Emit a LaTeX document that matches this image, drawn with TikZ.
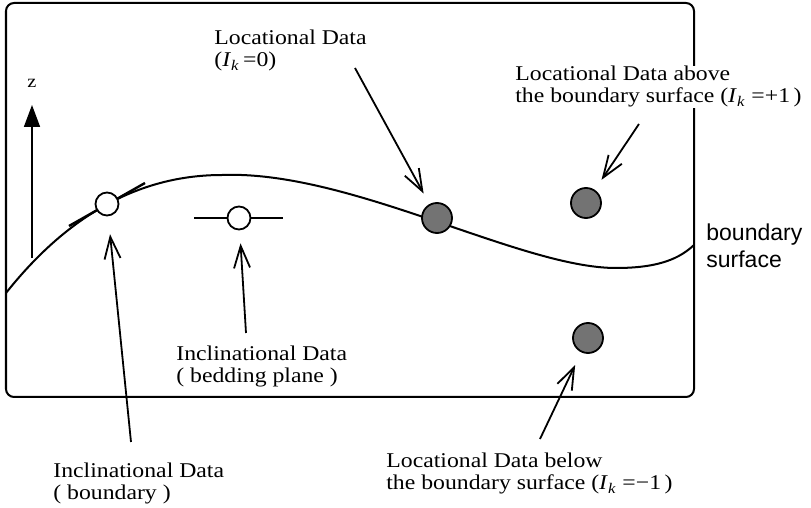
\documentclass[tikz,border=0pt]{standalone}
\usepackage{fontspec}
\setmainfont{Liberation Serif}[FakeStretch=1.13]
\setsansfont{Liberation Sans}
\usetikzlibrary{arrows.meta}

\begin{document}
\begin{tikzpicture}[
    x=0.5pt, y=-0.5pt,
    lbl/.style={anchor=base west, align=left, inner sep=0pt, font=\fontsize{10.5}{11.3}\selectfont},
    incl/.style={circle, draw, fill=white, line width=0.9pt, minimum size=11.5pt, inner sep=0pt},
    loc/.style={circle, draw, fill=black!55, line width=0.9pt, minimum size=15pt, inner sep=0pt},
    arr/.style={-{Straight Barb[length=11pt, width=8pt]}, line width=0.9pt},
    zarr/.style={-{Triangle[length=11pt, width=8pt]}, line width=0.9pt}
]
    \useasboundingbox (0,0) rectangle (811,508);

    % Frame and boundary surface
    \draw[line width=1pt, rounded corners=4pt] (6,3) rectangle (694,397);
    \draw[line width=1pt] (6,293) .. controls (60,225) and (130,175) .. (222,175)
        .. controls (350,170) and (520,268) .. (616,268)
        .. controls (660,268) and (680,258) .. (694,245);

    % z axis
    \coordinate (zf) at (32,258);
    \coordinate (zt) at (32,105);
    \draw[zarr] (zf) -- (zt);
    \node[inner sep=0pt, anchor=base, font=\fontsize{9}{10}\selectfont] (zl) at (32,88) {z};

    % Strike lines of the inclinational data
    \draw[line width=1.2pt] (69,226) -- (145,183);
    \draw[line width=0.9pt] (194,218) -- (283,218);

    % Data points
    \node[incl] (ib) at (107,204) {};
    \node[incl] (ip) at (239,218) {};
    \node[loc] (l0) at (437,218) {};
    \node[loc] (lup) at (586,203) {};
    \node[loc] (ldn) at (588,338) {};

    % Labels (anchored at the baseline of the last line)
    \node[lbl] (t0) at (214,67) {Locational Data\\(\textit{I}\textsubscript{\textit{k}}\,=0)};
    \node[lbl, fill=white] (tup) at (515,103) {Locational Data above\\the boundary surface (\textit{I}\textsubscript{\textit{k}}\;=+1\,)};
    \node[lbl] (tip) at (176,383) {Inclinational Data\\( bedding plane )};
    \node[lbl] (tib) at (53,500) {Inclinational Data\\( boundary )};
    \node[lbl] (tdn) at (386,490) {Locational Data below\\the boundary surface (\textit{I}\textsubscript{\textit{k}}\;=−1\,)};
    \node[anchor=base west, align=left, inner sep=0pt, font=\sffamily\fontsize{11.5}{13.5}\selectfont] (tbs) at (706,268) {boundary\\surface};

    % Pointers
    \coordinate (a0) at (355,68);
    \coordinate (aup) at (639,124);
    \coordinate (adn) at (540,439);
    \coordinate (aip) at (246,333);
    \coordinate (aib) at (131,442);
    \draw[arr, shorten >=6pt] (a0) -- (l0);
    \draw[arr, shorten >=6pt] (aup) -- (lup);
    \draw[arr, shorten >=7pt] (adn) -- (ldn);
    \draw[arr, shorten >=6.5pt] (aip) -- (ip);
    \draw[arr, shorten >=9pt] (aib) -- (ib);
\end{tikzpicture}
\end{document}
